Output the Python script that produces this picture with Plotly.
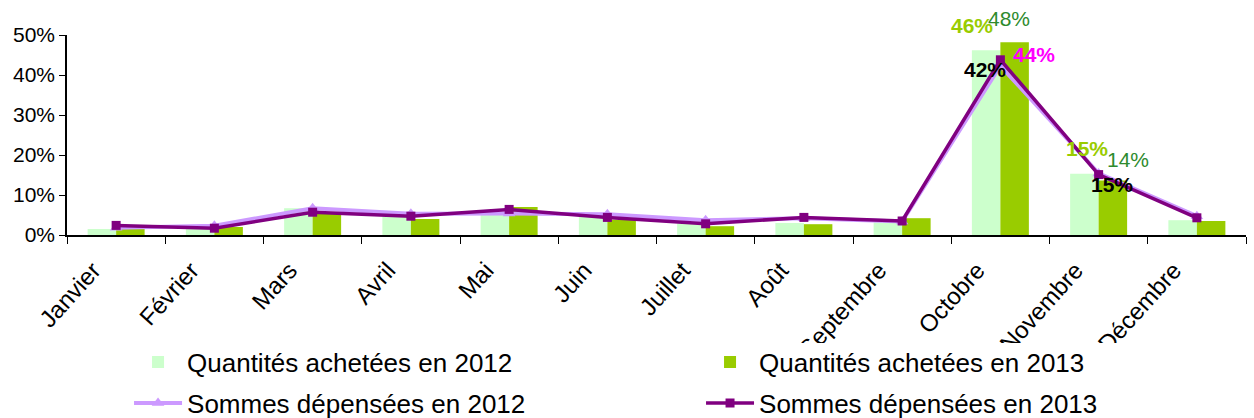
import plotly.graph_objects as go

months = ["Janvier", "Février", "Mars", "Avril", "Mai", "Juin", "Juillet",
          "Août", "Septembre", "Octobre", "Novembre", "Décembre"]
qte_2012 = [1.5, 1.5, 6.7, 4.7, 5.2, 4.6, 2.9, 3.0, 3.2, 46.2, 15.3, 3.7]
qte_2013 = [1.7, 2.0, 5.3, 4.0, 7.0, 3.8, 2.2, 2.7, 4.2, 48.2, 13.6, 3.5]
som_2012 = [1.8, 2.3, 6.7, 5.3, 5.4, 5.2, 3.7, 4.2, 3.4, 42.3, 15.4, 4.7]
som_2013 = [2.4, 1.7, 5.7, 4.7, 6.4, 4.4, 2.8, 4.4, 3.5, 43.8, 15.1, 4.3]
y_ticks = [0, 10, 20, 30, 40, 50]
y_tick_text = [f"{v}%" for v in y_ticks]

FONT = "Liberation Sans, Arial, sans-serif"

fig = go.Figure()
fig.add_trace(go.Bar(x=months, y=qte_2012, name="Quantités achetées en 2012",
                     marker=dict(color="#CCFFCC", line=dict(width=0)), legend="legend"))
fig.add_trace(go.Bar(x=months, y=qte_2013, name="Quantités achetées en 2013",
                     marker=dict(color="#99CC00", line=dict(width=0)), legend="legend"))
fig.add_trace(go.Scatter(x=months, y=som_2012, name="Sommes dépensées en 2012",
                         mode="lines+markers", legend="legend2",
                         line=dict(color="#CC99FF", width=4),
                         marker=dict(symbol="triangle-up", size=11, color="#CC99FF")))
fig.add_trace(go.Scatter(x=months, y=som_2013, name="Sommes dépensées en 2013",
                         mode="lines+markers", legend="legend2",
                         line=dict(color="#800080", width=3.5),
                         marker=dict(symbol="square", size=9, color="#800080")))

# data labels (Octobre / Novembre), positioned from the data values
labels = [
    (qte_2012, 9, "#99CC00", "bold", -28, 25),
    (qte_2013, 9, "#2E8B2E", "normal", 9, 24),
    (som_2013, 9, "#FF00FF", "bold", 34, 5),
    (som_2012, 9, "#000000", "bold", -15, -4),
    (qte_2012, 10, "#99CC00", "bold", -12, 25),
    (qte_2013, 10, "#2E8B2E", "normal", 29, 21),
    (som_2012, 10, "#000000", "bold", 13, -11),
]
for series, i, col, w, dx, dy in labels:
    fig.add_annotation(x=months[i], y=series[i], text=f"{round(series[i])}%",
                       showarrow=False, xshift=dx, yshift=dy,
                       font=dict(family=FONT, size=21, color=col, weight=w))

legend_common = dict(orientation="h", xref="container", yref="container",
                     x=0.1029, xanchor="left", yanchor="middle",
                     entrywidth=509, entrywidthmode="pixels", itemwidth=48,
                     font=dict(family=FONT, size=26, color="#000000"),
                     traceorder="normal", bgcolor="rgba(0,0,0,0)")

W, H = 1254, 418
M_L, M_R, M_T, M_B = 67, 8, 35, 183
plot_h = H - M_T - M_B
clip_px = 343  # the reference cuts the axis labels at this height

# white band that clips the bottom of the rotated month labels (as in the reference)
fig.add_shape(type="rect", xref="paper", yref="paper", layer="above",
              x0=-M_L / (W - M_L - M_R), x1=1 + M_R / (W - M_L - M_R),
              y0=-(H - M_T - plot_h) / plot_h - 0.1, y1=-(clip_px - M_T - plot_h) / plot_h,
              fillcolor="white", line=dict(width=0))

fig.update_layout(
    width=W, height=H,
    margin=dict(l=M_L, r=M_R, t=M_T, b=M_B, autoexpand=False),
    paper_bgcolor="white", plot_bgcolor="white",
    barmode="group", bargap=0.42, bargroupgap=0,
    font=dict(family=FONT, size=20, color="#000000"),
    showlegend=True,
    legend=dict(y=1 - 362 / 418, **legend_common),
    legend2=dict(y=1 - 403 / 418, **legend_common),
    xaxis=dict(type="category", range=[-0.5, len(months) - 0.5],
               tickson="boundaries", ticks="outside", ticklen=7,
               tickcolor="#000000", showline=True, linecolor="#000000", linewidth=1.5,
               tickangle=-48, tickfont=dict(family=FONT, size=24),
               ticklabelshift=-23, ticklabelstandoff=10,
               showgrid=False, zeroline=False, automargin=False),
    yaxis=dict(range=[0, 50], tickvals=y_ticks, ticktext=y_tick_text, ticks="outside",
               ticklen=6, tickcolor="#000000", showline=True, linecolor="#000000",
               linewidth=1.5, showgrid=False, zeroline=False, automargin=False,
               tickfont=dict(family=FONT, size=21)),
)

fig.write_html("out.html", config={"displayModeBar": False},
               post_script="document.body.style.margin='0';"
                           "document.body.style.overflow='hidden';")
